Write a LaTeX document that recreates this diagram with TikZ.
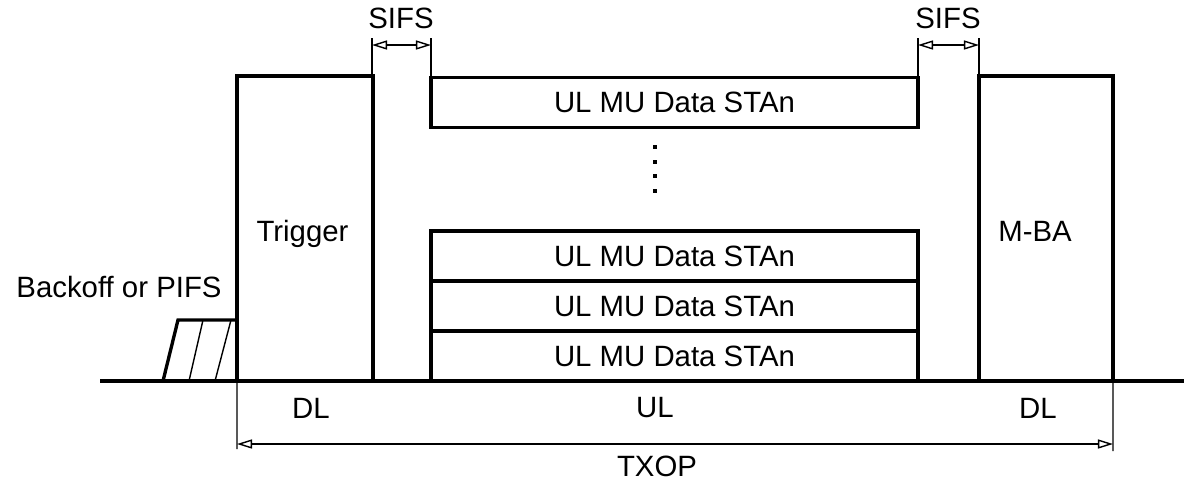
\documentclass[tikz,border=0pt]{standalone}
\usepackage{fontspec}
\setmainfont{Liberation Sans}
\usetikzlibrary{arrows.meta,positioning}

\begin{document}
\begin{tikzpicture}[x=0.01cm,y=-0.01cm,
	font=\fontsize{8.35}{10}\selectfont,
	frame/.style	={rectangle,draw,line width=0.95pt,inner sep=0pt,outer sep=0pt,minimum height=3.05cm},
	data/.style		={rectangle,draw,line width=0.95pt,inner sep=0pt,outer sep=0pt,minimum width=4.87cm,minimum height=0.5cm},
	tick/.style		={line width=0.4pt},
	dim/.style		={{Triangle[open,length=0.15cm,width=0.09cm]}-{Triangle[open,length=0.15cm,width=0.09cm]}, line width=0.4pt},
	]
	\useasboundingbox (0,0) rectangle (1184,481);
	
	% frames on the medium
	\node [frame,minimum width=1.36cm] (TR) at (305,228.5) {};
	\node [anchor=base] (TRl) at (302.5,241) {Trigger};
	\node [frame,minimum width=1.34cm] (BA) at (1046,228.5) {};
	\node [anchor=base] (BAl) at (1035,241) {M-BA};
	\node [data] (D1) at (674.5,102.5) {UL MU Data STAn};
	\node [data] (D4) at (674.5,356) {UL MU Data STAn};
	\node [data] (D3) [above=0pt of D4] {UL MU Data STAn};
	\node [data] (D2) [above=0pt of D3] {UL MU Data STAn};
	\foreach \y in {145,160,174,189}
		\fill (653,\y) rectangle ++(4,4);
	
	% backoff
	\draw [line width=0.95pt] (163,381) -- (178,320) -- (237,320);
	\draw [tick] (189,381) -- (203,320);
	\draw [tick] (215,381) -- (231,320);
	\node (BO) at (119,287) {Backoff or PIFS};
	
	% time axis
	\draw [line width=0.95pt] (100,381) -- (1184,381);
	\node (DL1) at (311,408) {DL};
	\node (UL) at (655,408) {UL};
	\node (DL2) at (1038,408) {DL};
	
	% SIFS
	\coordinate (s1) at (372,45);
	\coordinate (s2) at (431,45);
	\coordinate (s3) at (918,45);
	\coordinate (s4) at (979,45);
	\foreach \s in {s1,s2,s3,s4}
		\draw [tick] ([yshift=0.07cm]\s) -- ([yshift=-0.32cm]\s);
	\draw [dim] (s1) -- (s2);
	\draw [dim] (s3) -- (s4);
	\node (SIFS1) at (401,18) {SIFS};
	\node (SIFS2) at (948,18) {SIFS};
	
	% TXOP
	\coordinate (t1) at (237,444);
	\coordinate (t2) at (1113,444);
	\draw [tick] (TR.south west) -- ([yshift=-0.05cm]t1);
	\draw [tick] (BA.south east) -- ([yshift=-0.07cm]t2);
	\draw [dim] (t1) -- (t2);
	\node (TXOP) at (657,466) {TXOP};
\end{tikzpicture}
\end{document}
